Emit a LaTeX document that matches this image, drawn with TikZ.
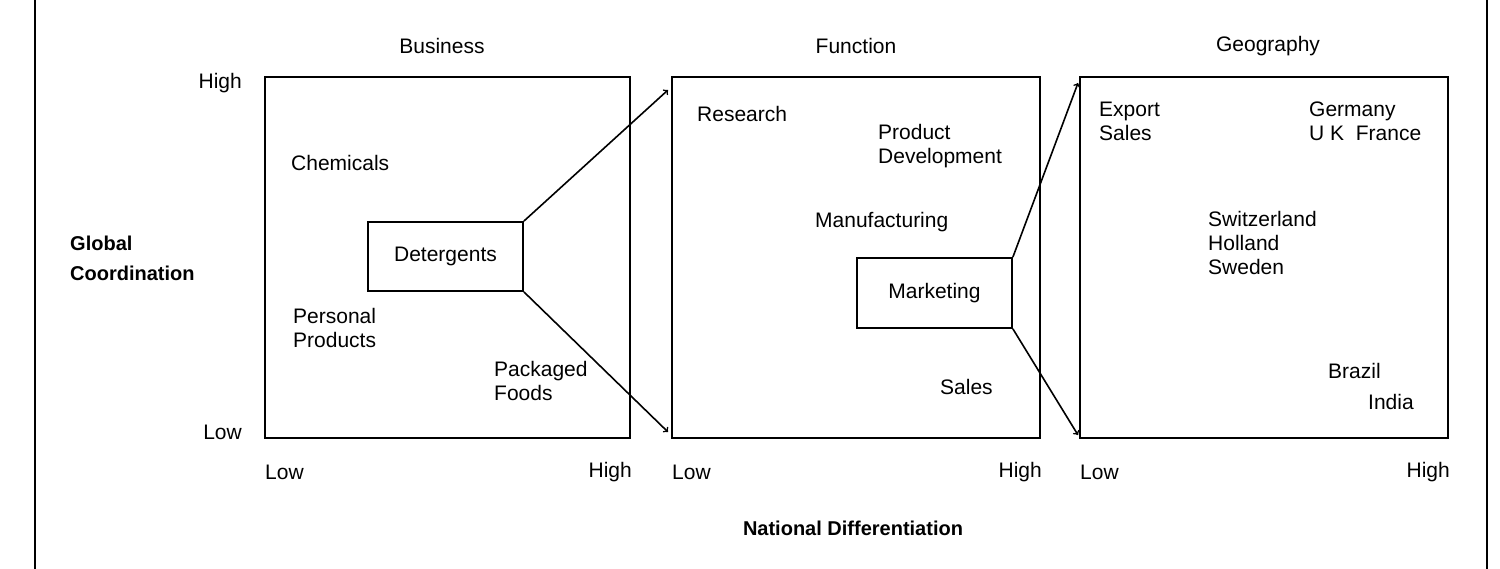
\documentclass[tikz,border=0pt]{standalone}
\usepackage{fontspec}
\setmainfont{Liberation Sans}
\begin{document}
\begin{tikzpicture}[x=1pt,y=-1pt,
  lab/.style={font=\fontsize{21}{24}\selectfont, inner sep=0pt},
  mlab/.style={lab, align=left},
  blab/.style={font=\bfseries\fontsize{20}{30}\selectfont, inner sep=0pt, align=left},
  panel/.style={draw, line width=2pt},
  inbox/.style={draw, line width=1.8pt},
  arr/.style={->, line width=1.6pt}]
\useasboundingbox (0,0) rectangle (1500,569);
\draw[line width=1.5pt] (35,0) -- (35,569);
\draw[line width=1.5pt] (1487,0) -- (1487,569);
% panels
\draw[panel] (265,77) rectangle (630,438);
\draw[panel] (672,77) rectangle (1040,438);
\draw[panel] (1080,77) rectangle (1448,438);
\node[lab] (tb) at (442,46) {Business};
\node[lab] (tf) at (856,46) {Function};
\node[lab] (tg) at (1268,46) {Geography};
% axes labels
\node[lab,anchor=east] (hi) at (242,83) {High};
\node[lab,anchor=east] (lo) at (242,432) {Low};
\node[blab,anchor=west] (gc) at (70,258) {Global\\Coordination};
\node[blab] (nd) at (853,528) {National Differentiation};
\foreach \x/\n in {265/a,672/b,1080/c}{\node[lab,anchor=west] (l\n) at (\x,472) {Low};}
\foreach \x/\n in {632/a,1042/b,1450/c}{\node[lab,anchor=east] (h\n) at (\x,472) {High};}
% business
\node[lab,anchor=west] (chem) at (291,163) {Chemicals};
\node[inbox, minimum width=155pt, minimum height=69pt, lab] (det) at (445.5,256.5) {Detergents};
\node[mlab,anchor=north west] (pp) at (293,308) {Personal\\Products};
\node[mlab,anchor=north west] (pf) at (494,361) {Packaged\\Foods};
% function
\node[lab,anchor=west] (res) at (697,114) {Research};
\node[mlab,anchor=north west] (pd) at (878,124) {Product\\Development};
\node[lab,anchor=west] (man) at (815,222) {Manufacturing};
\node[inbox, minimum width=155pt, minimum height=70pt, lab] (mkt) at (934.5,293) {Marketing};
\node[lab,anchor=west] (sal) at (940,387) {Sales};
% geography
\node[mlab,anchor=north west] (exp) at (1099,102) {Export\\Sales};
\node[mlab,anchor=north west] (ger) at (1309,102) {Germany\\U K\ \ France};
\node[mlab,anchor=north west] (swi) at (1208,211) {Switzerland\\Holland\\Sweden};
\node[lab,anchor=west] (bra) at (1328,371) {Brazil};
\node[lab,anchor=west] (ind) at (1368,402) {India};
% arrows
\coordinate (f1) at (668,90); \coordinate (f2) at (668,432);
\coordinate (g1) at (1078,83); \coordinate (g2) at (1078,435);
\draw[arr] (det.north east) -- (f1);
\draw[arr] (det.south east) -- (f2);
\draw[arr] (mkt.north east) -- (g1);
\draw[arr] (mkt.south east) -- (g2);
\end{tikzpicture}
\end{document}
